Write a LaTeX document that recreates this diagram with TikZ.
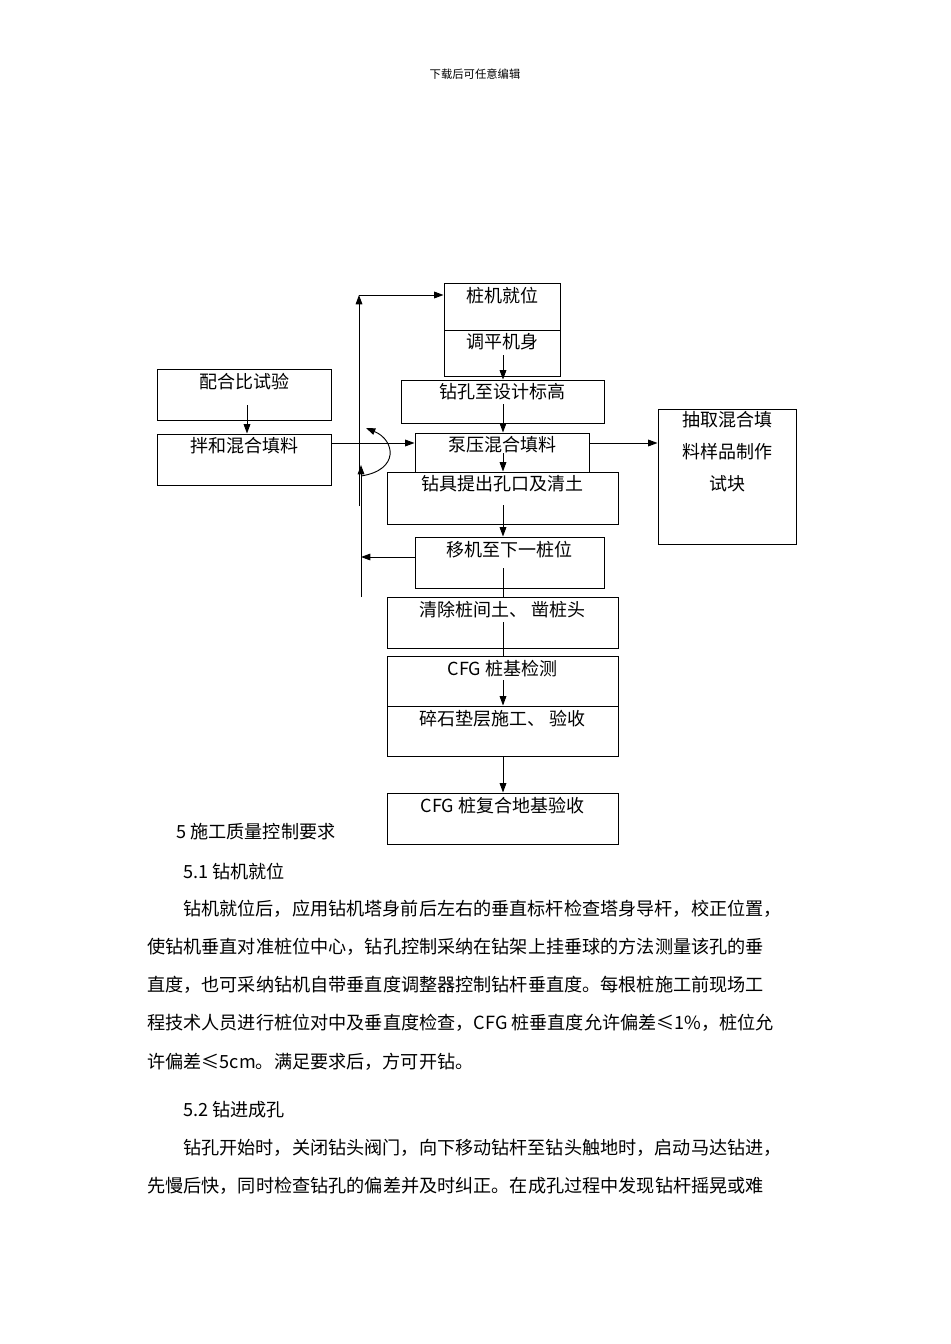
\documentclass[tikz,border=0pt]{standalone}
\usepackage{fontspec}
\setmainfont{Liberation Serif}
\newfontfamily\cjk{Noto Sans CJK SC}
\usetikzlibrary{arrows.meta}
\begin{document}
\begin{tikzpicture}[x=0.75pt,y=-0.75pt,
  box/.style={draw,line width=0.7pt,inner sep=0pt},
  lbl/.style={anchor=north,font=\cjk\fontsize{13.5pt}{15pt}\selectfont,inner sep=0pt},
  txt/.style={anchor=west,font=\cjk\fontsize{13.6pt}{15pt}\selectfont,inner sep=0pt},
  ar/.style={line width=0.7pt,-{Triangle[length=7pt,width=5pt]}},
  ln/.style={line width=0.7pt}]
\useasboundingbox (0,0) rectangle (950,1344);
\newcommand{\bx}[6]{\node[box,minimum width={(#4-#2)*0.75pt},minimum height={(#5-#3)*0.75pt}] (#1) at ({(#2+#4)/2},{(#3+#5)/2}) {};
  \node[lbl] (#1t) at ([yshift=-3pt]#1.north) {#6};}
\node[font=\cjk\fontsize{8.5pt}{10pt}\selectfont] (hdr) at (475,74) {下载后可任意编辑};
\bx{a}{444}{283}{560}{330}{桩机就位}
\bx{b}{444}{330}{560}{376}{调平机身}
\bx{c}{401}{380}{604}{423}{钻孔至设计标高}
\bx{p}{157}{369}{331}{420}{配合比试验}
\bx{q}{157}{434}{331}{485}{拌和混合填料}
\bx{d}{415}{433}{589}{472}{泵压混合填料}
\bx{e}{387}{472}{618}{524}{钻具提出孔口及清土}
\bx{f}{415}{537}{604}{588}{移机至下一桩位}
\bx{g}{387}{597}{618}{648}{清除桩间土、\ 凿桩头}
\bx{h}{387}{656}{618}{706}{CFG 桩基检测}
\bx{i}{387}{706}{618}{756}{碎石垫层施工、\ 验收}
\bx{j}{387}{793}{618}{844}{CFG 桩复合地基验收}
\node[box,minimum width={138*0.75pt},minimum height={135*0.75pt}] (s) at (727,476.5) {};
\node[anchor=north,align=center,font=\cjk\fontsize{13.5pt}{24pt}\selectfont,inner sep=0pt] (st) at ([yshift=-2pt]s.north) {抽取混合填\\料样品制作\\试块};
% centre arrows
\coordinate (x0) at (503,0);
\draw[ar] (503,355) -- (c.north -| x0);
\draw[ar] (503,404) -- (d.north -| x0);
\draw[ar] (503,453) -- (e.north -| x0);
\draw[ar] (503,505) -- (f.north -| x0);
\draw[ln] (503,568) -- (g.north -| x0);
\draw[ln] (503,622) -- (h.north -| x0);
\draw[ar] (503,680) -- (i.north -| x0);
\draw[ar] (i.south -| x0) -- (j.north -| x0);
\draw[ar] (247,405) -- (q.north -| 247,0);
% side
\coordinate (top) at (359,295);
\coordinate (lb) at (359,506);
\coordinate (rb) at (361,597);
\coordinate (rm) at (361,465);
\draw[ar] (lb) -- (top);
\draw[ar] (top) -- (top -| a.west);
\draw[ar] (rb) -- (rm);
\draw[ar] (f.west |- 0,557) -- (361,557);
\draw[ar] (q.east |- 0,443) -- (d.west |- 0,443);
\draw[ar] (d.east |- 0,443) -- (s.west |- 0,443);
\draw[ar] (361,476) .. controls (400,470) and (395,440) .. (366,428);
% body text
\node[txt] (t1) at (176,832) {5\ 施工质量控制要求};
\node[txt] (t2) at (183,872) {5.1 钻机就位};
\node[txt] (t3) at (183,909) {钻机就位后，应用钻机塔身前后左右的垂直标杆检查塔身导杆，校正位置，};
\node[txt] (t4) at (147,947) {使钻机垂直对准桩位中心，钻孔控制采纳在钻架上挂垂球的方法测量该孔的垂};
\node[txt] (t5) at (147,985) {直度，也可采纳钻机自带垂直度调整器控制钻杆垂直度。每根桩施工前现场工};
\node[txt] (t6) at (147,1023) {程技术人员进行桩位对中及垂直度检查，CFG 桩垂直度允许偏差≤1\%，桩位允};
\node[txt] (t7) at (147,1062) {许偏差≤5cm。满足要求后，方可开钻。};
\node[txt] (t8) at (183,1110) {5.2 钻进成孔};
\node[txt] (t9) at (183,1148) {钻孔开始时，关闭钻头阀门，向下移动钻杆至钻头触地时，启动马达钻进，};
\node[txt] (t10) at (147,1186) {先慢后快，同时检查钻孔的偏差并及时纠正。在成孔过程中发现钻杆摇晃或难};
\end{tikzpicture}
\end{document}
